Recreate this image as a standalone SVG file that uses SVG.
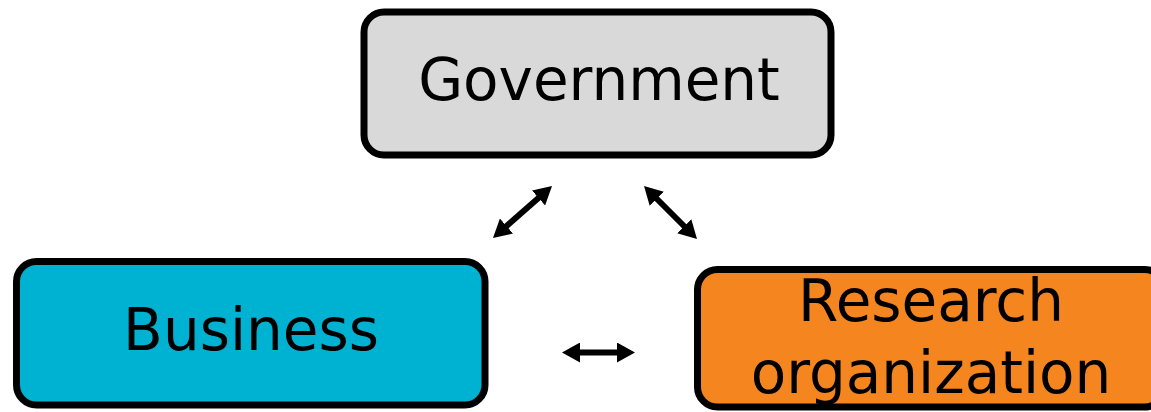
<svg xmlns="http://www.w3.org/2000/svg" width="1151" height="412" viewBox="0 0 1151 412">
<style>
.box{stroke:#000;stroke-width:7}
.lbl{font-family:"DejaVu Sans",Verdana,sans-serif;font-size:58px;fill:#000;text-anchor:middle}
.conn{stroke:#000;stroke-width:6;fill:none;marker-start:url(#ah);marker-end:url(#ah)}
</style>
<defs>
<marker id="ah" viewBox="0 0 18 20" refX="6" refY="10" markerWidth="18" markerHeight="20" markerUnits="userSpaceOnUse" orient="auto-start-reverse">
<path d="M0,0 L18,10 L0,20 z" fill="#000"/>
</marker>
</defs>
<rect width="1151" height="412" fill="#fff"/>
<g id="government">
<rect class="box" x="364" y="12" width="467" height="143" rx="20" fill="#d9d9d9"/>
<text class="lbl" x="599" y="100">Government</text>
</g>
<g id="business">
<rect class="box" x="16.5" y="261.5" width="468.5" height="143.5" rx="20" fill="#00b2d2"/>
<text class="lbl" x="251" y="350">Business</text>
</g>
<g id="research">
<rect class="box" x="697.5" y="269.5" width="467" height="137.5" rx="20" fill="#f5861f"/>
<text class="lbl" x="931" y="321">Research</text>
<text class="lbl" x="931" y="393">organization</text>
</g>
<g id="connectors">
<line class="conn" x1="502" y1="230" x2="543" y2="194"/>
<line class="conn" x1="652.5" y1="194.5" x2="688.5" y2="230.5"/>
<line class="conn" x1="574" y1="352.5" x2="623" y2="352.5"/>
</g>
</svg>
